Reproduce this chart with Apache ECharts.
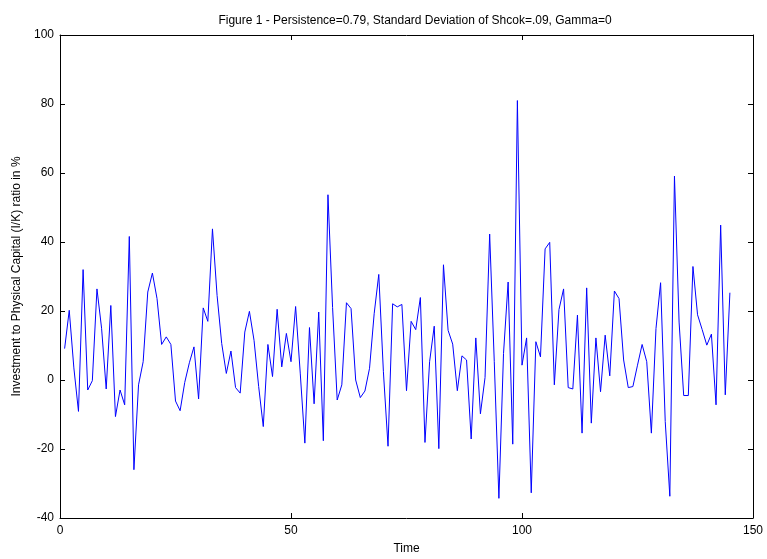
<!DOCTYPE html>
<html>
<head>
<meta charset="utf-8">
<script src="https://cdn.jsdelivr.net/npm/echarts@6/dist/echarts.min.js"></script>
<style>
  html, body { margin: 0; padding: 0; background: #fff; }
  #chart { width: 767px; height: 559px; }
</style>
</head>
<body>
<div id="chart"></div>
<script>
    'use strict'

    /* Chart data */
    var titleText = 'Figure 1 - Persistence=0.79, Standard Deviation of Shcok=.09, Gamma=0';
    var xTicks = [0, 50, 100, 150];
    var yTicks = [-40, -20, 0, 20, 40, 60, 80, 100];
    var ratio = [
        9.1, 20.2, 3.5, -9.1, 32, -2.9, -0.2, 26.4, 15, -2.6,
        21.6, -10.6, -2.9, -7.2, 41.6, -26, -1.4, 5.3, 25.5, 31,
        23.6, 10.3, 12.5, 10.3, -6.1, -8.9, -0.7, 5, 9.6, -5.5,
        20.9, 17, 43.8, 24.5, 10.6, 1.9, 8.4, -2.2, -3.8, 13.9,
        19.9, 11.5, -1.9, -13.5, 10.3, 1, 20.5, 3.8, 13.5, 5.3,
        21.3, 2, -18.3, 15.2, -6.9, 19.7, -17.6, 53.7, 21, -5.8,
        -1.4, 22.4, 20.7, 0, -5.1, -3.2, 3.4, 19.2, 30.6, 2.4,
        -19.2, 22.1, 21.2, 21.9, -3.1, 17, 14.6, 23.9, -18.1, 5.3,
        15.6, -19.9, 33.4, 14.4, 10.4, -3.1, 7, 5.8, -17.1, 12.2,
        -9.8, 0.7, 42.3, 5.3, -34.3, 7.7, 28.4, -18.6, 81, 4.3,
        12.2, -32.7, 11.1, 6.7, 38, 39.9, -1.4, 20.4, 26.4, -2.2,
        -2.6, 18.8, -15.4, 26.7, -12.5, 12.2, -3.4, 13, 1.2, 25.8,
        23.6, 5.8, -2.2, -1.9, 4.3, 10.3, 5.3, -15.4, 14.9, 28.2,
        -12, -33.7, 59.1, 16.8, -4.5, -4.5, 32.9, 18.9, 14.6, 10.1,
        13.3, -7.2, 44.9, -4.3, 25.3
    ];

    var seriesData = ratio.map(function (v, i) { return [i + 1, v]; });

    var font = 'Liberation Sans, Arial, sans-serif';
    var boxLine = { show: true, onZero: false, lineStyle: { color: '#000', width: 1 } };
    var tickIn = { show: true, inside: true, length: 5, lineStyle: { color: '#000' } };

    var chart = document.getElementById('chart');
    var lineChart = echarts.init(chart);

    lineChart.setOption({
        animation: false,
        title: {
            text: titleText,
            left: 410,
            top: 10,
            textAlign: 'center',
            textStyle: { fontFamily: font, fontSize: 12, fontWeight: 'normal', color: '#000' }
        },
        grid: {
            left: 60,
            right: 14,
            top: 35,
            bottom: 41,
            containLabel: false,
            outerBoundsMode: 'none'
        },
        xAxis: [{
            type: 'value',
            min: xTicks[0],
            max: xTicks[xTicks.length - 1],
            interval: 50,
            position: 'bottom',
            name: 'Time',
            nameLocation: 'middle',
            nameGap: 25,
            nameTextStyle: { fontFamily: font, fontSize: 12, color: '#000' },
            axisLine: boxLine,
            axisTick: tickIn,
            splitLine: { show: false },
            axisLabel: { fontFamily: font, fontSize: 12, color: '#000', margin: 7 }
        }, {
            type: 'value',
            min: xTicks[0],
            max: xTicks[xTicks.length - 1],
            interval: 50,
            position: 'top',
            axisLine: boxLine,
            axisTick: tickIn,
            splitLine: { show: false },
            axisLabel: { show: false }
        }],
        yAxis: [{
            type: 'value',
            min: yTicks[0],
            max: yTicks[yTicks.length - 1],
            interval: 20,
            position: 'left',
            name: 'Investment to Physical Capital (I/K) ratio in %',
            nameLocation: 'middle',
            nameGap: 35,
            nameTextStyle: { fontFamily: font, fontSize: 12, color: '#000' },
            axisLine: boxLine,
            axisTick: tickIn,
            splitLine: { show: false },
            axisLabel: { fontFamily: font, fontSize: 12, color: '#000', margin: 6 }
        }, {
            type: 'value',
            min: yTicks[0],
            max: yTicks[yTicks.length - 1],
            interval: 20,
            position: 'right',
            axisLine: boxLine,
            axisTick: tickIn,
            splitLine: { show: false },
            axisLabel: { show: false }
        }],
        series: [{
            name: 'I/K',
            type: 'line',
            data: seriesData,
            showSymbol: false,
            symbol: 'none',
            lineStyle: { color: '#0000ff', width: 1 }
        }]
    });
</script>
</body>
</html>
